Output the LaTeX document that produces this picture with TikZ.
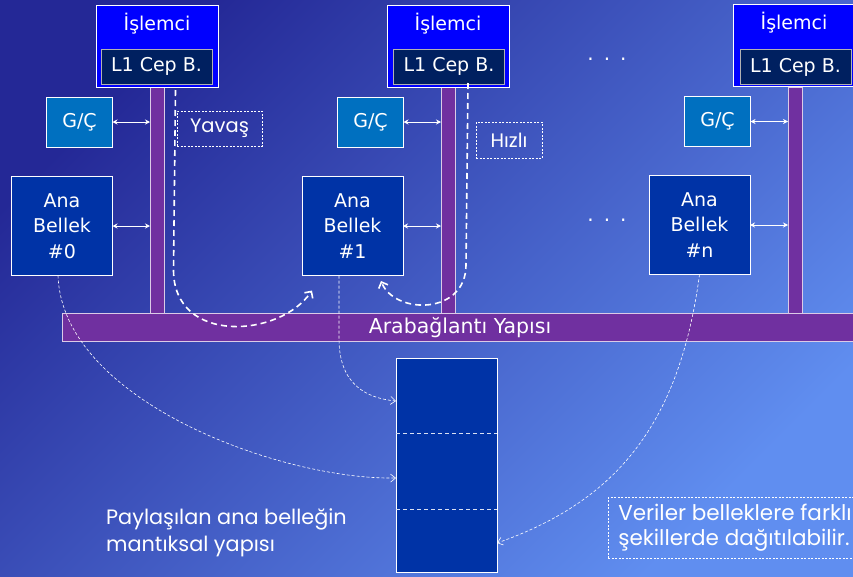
\documentclass[tikz,border=0pt]{standalone}
\usepackage{fontspec}
\setmainfont{DejaVu Sans}
\newfontfamily\handfont{Poppins}
\usetikzlibrary{arrows.meta}

\definecolor{bgdark}{RGB}{36,40,150}
\definecolor{bglight}{RGB}{96,142,240}
\definecolor{procblue}{RGB}{0,0,255}
\definecolor{cachenavy}{RGB}{0,32,96}
\definecolor{iocol}{RGB}{0,112,192}
\definecolor{memcol}{RGB}{0,51,166}
\definecolor{buscol}{RGB}{112,48,160}

\tikzset{
  box/.style={draw=white, line width=0.8pt, inner sep=0pt, outer sep=0pt,
    text=white, align=center, font=\fontsize{19}{25.5}\selectfont},
  procbox/.style={box, fill=procblue, minimum width=122pt, minimum height=82pt},
  cachebox/.style={box, draw=gray!60, fill=cachenavy, minimum width=111pt, minimum height=35pt},
  iobox/.style={box, fill=iocol, minimum width=66pt, minimum height=50pt},
  membox/.style={box, fill=memcol, minimum width=101pt, minimum height=99pt},
  busbar/.style={draw=white!75!buscol, line width=0.8pt, fill=buscol,
    inner sep=0pt, outer sep=0pt, minimum width=14pt, minimum height=227pt},
  label/.style={text=white, font=\fontsize{19}{23}\selectfont, inner sep=0pt},
  link/.style={white, line width=0.8pt,
    {Stealth[length=5pt,width=5pt]}-{Stealth[length=5pt,width=5pt]}},
  route/.style={white, line width=1.6pt, dash pattern=on 6pt off 4pt,
    -{Straight Barb[length=5pt,width=10pt]}},
  spread/.style={white, line width=0.6pt, dash pattern=on 3pt off 2pt,
    -{Straight Barb[length=5pt,width=8pt]}},
  note/.style={draw=white, line width=0.6pt, dash pattern=on 2pt off 1.5pt,
    text=white, font=\handfont\fontsize{19.5}{25}\selectfont},
  divider/.style={white!85!memcol, line width=0.8pt, dash pattern=on 4pt off 3pt},
}

\begin{document}
\begin{tikzpicture}[x=1pt,y=-1pt]
\useasboundingbox (0,0) rectangle (853,576);
\clip (0,0) rectangle (853,576);
\shade[top color=bgdark, bottom color=bglight, shading angle=45] (-2,-2) rectangle (855,578);

% vertical buses of the three nodes
\node (b1) [busbar] at (157,200.5) {};
\node (b2) [busbar] at (448,200.5) {};
\node (b3) [busbar] at (795,200.5) {};

% interconnect
\node (bus) [busbar, minimum width=796pt, minimum height=28pt, anchor=north west] at (62,313) {};
\node (bust) [label, font=\fontsize{20.5}{24}\selectfont] at (460,328) {Arabağlantı Yapısı};

% processors with their L1 caches
\node (p1) [procbox] at (157,46) {};
\node (p1t) [label] at (157,24) {İşlemci};
\node (c1) [cachebox] at (156.5,66.5) {L1 Cep B.};

\node (p2) [procbox] at (448,46) {};
\node (p2t) [label] at (448,24) {İşlemci};
\node (c2) [cachebox] at (449,66.5) {L1 Cep B.};

\node (p3) [procbox] at (794,45) {};
\node (p3t) [label] at (794,23) {İşlemci};
\node (c3) [cachebox] at (795.5,67) {L1 Cep B.};

% I/O units
\node (g1) [iobox] at (79.5,122) {G/Ç};
\node (g2) [iobox] at (370.5,122) {G/Ç};
\node (g3) [iobox] at (717.5,121.5) {G/Ç};

% memory modules
\node (m1) [membox] at (62,226) {Ana\\Bellek\\\#0};
\node (m2) [membox] at (352.5,226) {Ana\\Bellek\\\#1};
\node (m3) [membox] at (699.5,225) {Ana\\Bellek\\\#n};

\draw[link] (g1.east) -- (g1.east -| b1.west);
\draw[link] (m1.east) -- (m1.east -| b1.west);
\draw[link] (g2.east) -- (g2.east -| b2.west);
\draw[link] (m2.east) -- (m2.east -| b2.west);
\draw[link] (g3.east) -- (g3.east -| b3.west);
\draw[link] (m3.east) -- (m3.east -| b3.west);

% ellipses for the omitted nodes
\node (dotsa) [label, font=\fontsize{20}{24}\selectfont] at (607,59) {.\hspace{10pt}.\hspace{10pt}.};
\node (dotsb) [label, font=\fontsize{20}{24}\selectfont] at (607,220) {.\hspace{10pt}.\hspace{10pt}.};

% remote and local access paths
\node (slow) [note, minimum width=85pt, minimum height=35pt] at (219.5,128.5) {Yavaş};
\node (fast) [note, minimum width=66pt, minimum height=36pt] at (509,140) {Hızlı};

\coordinate (r1s) at ([shift={(19,6)}]c1.south);
\coordinate (r1e) at ([shift={(10,15)}]m2.south west);
\draw[route] (r1s) -- ++(-2,180) .. controls +(0,75) and (280,338) .. (r1e);

\coordinate (r2s) at ([shift={(19,-1)}]c2.south);
\coordinate (r2e) at ([shift={(28.5,5.5)}]m2.south);
\draw[route] (r2s) -- ++(-2,182) .. controls +(0,50) and (395,315) .. (r2e);

% logical view of the shared memory
\node (lm) [box, fill=memcol, minimum width=101pt, minimum height=214pt] at (446.5,465) {};
\draw[divider] ([yshift=-75pt]lm.north west) -- ([yshift=-75pt]lm.north east);
\draw[divider] ([yshift=-151pt]lm.north west) -- ([yshift=-151pt]lm.north east);

\draw[spread] ([xshift=-4pt]m1.south) .. controls (62,400) and (280,480) .. (lm.west |- 0,478);
\draw[spread] ([xshift=-13.5pt]m2.south) -- ++(0,63) .. controls +(0,45) and (365,398) .. (lm.west |- 0,401);
\draw[spread] (m3.south) .. controls (680,420) and (620,500) .. (lm.east |- 0,543);

\node (cap) [text=white, font=\handfont\fontsize{20.8}{27}\selectfont, align=left, anchor=north west, inner sep=0pt]
  at (106,508) {Paylaşılan ana belleğin\\mantıksal yapısı};
\node (dist) [note, font=\handfont\fontsize{21.5}{25}\selectfont, anchor=north west, align=left,
  minimum height=61pt, inner xsep=10pt, inner ysep=0pt]
  at (608,497) {Veriler belleklere farklı\\şekillerde dağıtılabilir.};
\end{tikzpicture}
\end{document}
